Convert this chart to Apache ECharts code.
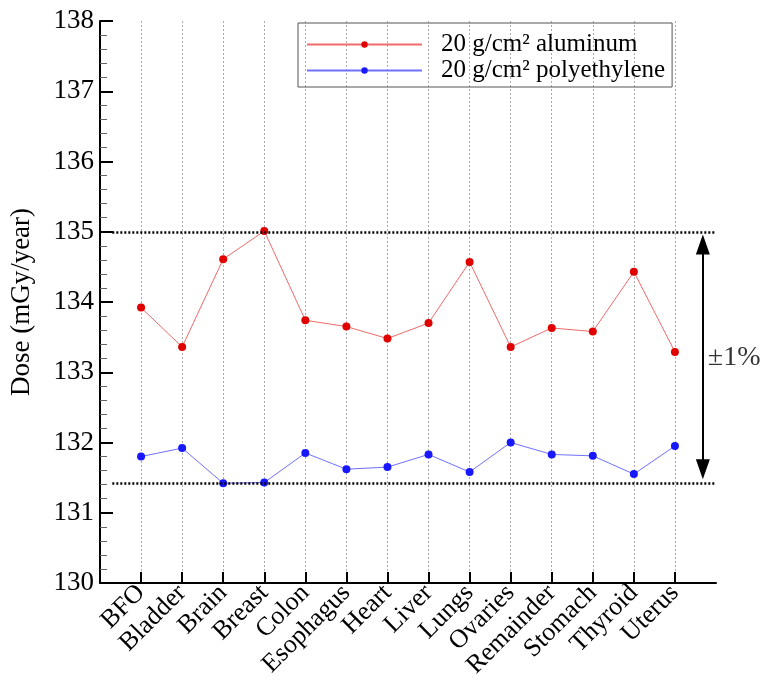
<!DOCTYPE html>
<html>
<head>
<meta charset="utf-8">
<script src="https://cdn.jsdelivr.net/npm/echarts@6/dist/echarts.min.js"></script>
<style>html,body{margin:0;padding:0;background:#fff}#c{width:767px;height:692px}</style>
</head>
<body>
<div id="c"></div>
<script>
const categories = ['BFO','Bladder','Brain','Breast','Colon','Esophagus','Heart','Liver','Lungs','Ovaries','Remainder','Stomach','Thyroid','Uterus'];
const aluminum = [133.92,133.36,134.61,135.01,133.74,133.65,133.48,133.70,134.57,133.36,133.63,133.58,134.43,133.29];
const polyethylene = [131.80,131.92,131.42,131.43,131.85,131.62,131.65,131.83,131.58,132.00,131.83,131.81,131.55,131.95];
const yTicks = [130,131,132,133,134,135,136,137,138];
const bandLimits = [135.0, 131.42];
const bandLabel = '\u00b11%';
const seriesNames = ['20 g/cm\u00b2 aluminum','20 g/cm\u00b2 polyethylene'];

const padded = [''].concat(categories, ['']);
const nPad = padded.length - 1;
const arrowX = nPad - 0.32;
const serif = 'Liberation Serif';

const chart = echarts.init(document.getElementById('c'), null, {renderer:'canvas'});
chart.setOption({
  backgroundColor:'#fff',
  animation:false,
  grid:{left:98, right:51, top:21, bottom:109},
  legend:{
    orient:'vertical', left:298, top:23,
    padding:[9,7,4,8],
    borderColor:'#555', borderWidth:1,
    itemWidth:115, itemHeight:8, itemGap:1,
    textStyle:{fontFamily:serif, fontSize:25, color:'#000', padding:[0,0,0,14]},
    data:seriesNames
  },
  xAxis:[{
    type:'category', data:padded, boundaryGap:false,
    axisLine:{lineStyle:{color:'#000', width:2}},
    axisTick:{inside:true, length:11, interval:(i)=> i>0 && i<nPad, lineStyle:{color:'#000', width:2}},
    axisLabel:{interval:0, rotate:45, fontFamily:serif, fontSize:26, color:'#000', margin:6},
    splitLine:{show:true, interval:(i)=> i>0 && i<nPad, lineStyle:{color:'#aaa', width:1, type:[2,2]}}
  },{
    type:'value', min:0, max:nPad, show:false
  }],
  yAxis:{
    type:'value', min:yTicks[0], max:yTicks[yTicks.length-1], interval:1,
    name:'Dose (mGy/year)', nameLocation:'middle', nameGap:65,
    nameTextStyle:{fontFamily:serif, fontSize:27, color:'#000'},
    axisLine:{show:true, lineStyle:{color:'#000', width:2}},
    axisTick:{inside:true, length:13, lineStyle:{color:'#000', width:2}},
    minorTick:{show:true, splitNumber:5, length:7, lineStyle:{color:'#666', width:1}},
    axisLabel:{fontFamily:serif, fontSize:27, color:'#000', margin:6},
    splitLine:{show:false}
  },
  series:[{
    name:seriesNames[0], type:'line', data:aluminum.map((v,i)=>[i+1,v]),
    xAxisIndex:0, symbol:'circle', symbolSize:8,
    lineStyle:{color:'#f06a6a', width:1}, itemStyle:{color:'#e00000'}
  },{
    name:seriesNames[1], type:'line', data:polyethylene.map((v,i)=>[i+1,v]),
    xAxisIndex:0, symbol:'circle', symbolSize:8,
    lineStyle:{color:'#7070ff', width:1}, itemStyle:{color:'#1818ff'}
  },{
    name:'bands', type:'line', xAxisIndex:1, data:[], silent:true,
    markLine:{
      symbol:['none','none'], silent:true, label:{show:false},
      lineStyle:{color:'#000', width:2.5, type:[2,2]},
      data: bandLimits.map(v=>[{coord:[0.3,v]},{coord:[nPad,v]}])
    }
  },{
    name:'arrow', type:'line', xAxisIndex:1, data:[], silent:true,
    markLine:{
      symbol:['triangle','triangle'], symbolSize:[14,20], silent:true, label:{show:false},
      lineStyle:{color:'#000', width:2, type:'solid'},
      data:[[{coord:[arrowX, bandLimits[1]+0.2]},{coord:[arrowX, bandLimits[0]-0.18]}]]
    }
  },{
    name:'bandLabel', type:'scatter', xAxisIndex:1, silent:true,
    symbolSize:0,
    data:[{value:[arrowX,(bandLimits[0]+bandLimits[1])/2], label:{show:true, formatter:bandLabel, position:'right', distance:5, fontFamily:serif, fontSize:28, color:'#000'}}]
  }]
});
</script>
</body>
</html>
